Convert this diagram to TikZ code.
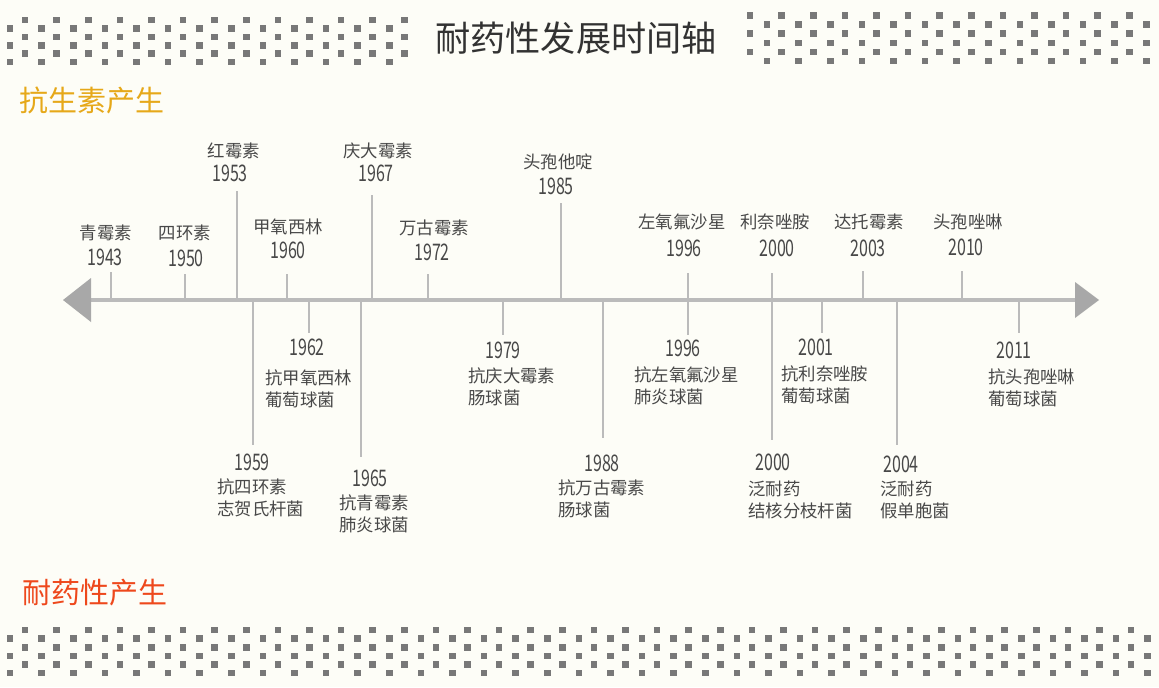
\documentclass[tikz,border=0pt]{standalone}
\usepackage{fontspec}
\setmainfont{Noto Sans CJK SC}
\newfontfamily\yearfont[FakeStretch=0.7]{Noto Sans CJK SC}
\usetikzlibrary{positioning}
\definecolor{bgcolor}{RGB}{253,253,247}
\definecolor{dotcolor}{RGB}{120,120,120}
\definecolor{axiscolor}{RGB}{187,187,187}
\definecolor{headcolor}{RGB}{168,168,168}
\definecolor{labelcolor}{RGB}{72,72,72}
\definecolor{titlecolor}{RGB}{50,50,50}
\definecolor{goldcolor}{RGB}{230,168,25}
\definecolor{redcolor}{RGB}{238,72,28}
\tikzset{
	axisline/.style={
		draw=axiscolor,
		line width=2.6pt
	},
	arrowhead/.style={
		fill=headcolor
	},
	tickline/.style={
		draw=axiscolor,
		line width=1.4pt
	},
	dot/.style={
		fill=dotcolor
	},
	yearlbl/.style={
		inner sep=0pt,
		text=labelcolor,
		font=\fontsize{13}{13}\yearfont
	},
	druglbl/.style={
		inner sep=0pt,
		text=labelcolor,
		font=\fontsize{9.9}{12.5}\selectfont
	},
	germlbl/.style={
		druglbl,
		align=left,
		anchor=west
	},
	headline/.style={
		inner sep=0pt,
		anchor=west,
		font=\fontsize{16.5}{16.5}\selectfont
	},
	maintitle/.style={
		inner sep=0pt,
		text=titlecolor,
		font=\fontsize{20}{20}\selectfont
	},
}
% staggered band of grey squares
\newcommand{\dotband}[5]{%
	\foreach \k in {0,...,#5}{%
		\foreach \r in {0,2,4}{\fill[dot] ({#1+31.6*\k-3.3},{#3+#4*\r-3.3}) rectangle ++(6.6,6.6);}%
		\foreach \r in {1,3,5}{\fill[dot] ({#2+31.6*\k-3.3},{#3+#4*\r-3.3}) rectangle ++(6.6,6.6);}%
	}%
}

\begin{document}
\begin{tikzpicture}[x=0.02cm,y=-0.02cm]
\fill[bgcolor] (0,0) rectangle (1159,687);
\useasboundingbox (0,0) rectangle (1159,687);

\dotband{25}{10}{20}{8.4}{12}
\dotband{750}{767}{15.5}{9.1}{12}
\dotband{25}{10}{630}{8.6}{36}

\node[maintitle] (title) at (576,38) {耐药性发展时间轴};
\node[headline, text=goldcolor] (antib) at (19,100) {抗生素产生};
\node[headline, text=redcolor] (resist) at (22,593) {耐药性产生};

% time axis
\coordinate (axL) at (91,300);
\coordinate (axR) at (1075,300);
\draw[axisline] (axL) -- (axR);
\fill[arrowhead] (axL) -- ++(-28,0) -- ++(28,-22) -- cycle;
\fill[arrowhead] (axL) -- ++(-28,0) -- ++(28,22) -- cycle;
\fill[arrowhead] (axR) -- ++(0,-18) -- ++(24,18) -- ++(-24,18) -- cycle;

% antibiotics (above)
\coordinate (a1943) at (111,300);
\coordinate (t1943) at (111,272);
\node[druglbl] (n1943) at (106,233) {青霉素};
\node[yearlbl] (y1943) at (105,257) {1943};
\draw[tickline] (a1943) -- (t1943);

\coordinate (a1950) at (185,300);
\coordinate (t1950) at (185,274);
\node[druglbl] (n1950) at (185,233) {四环素};
\node[yearlbl] (y1950) at (186,258) {1950};
\draw[tickline] (a1950) -- (t1950);

\coordinate (a1953) at (237,300);
\coordinate (t1953) at (237,191);
\node[druglbl] (n1953) at (234,151) {红霉素};
\node[yearlbl] (y1953) at (230,173) {1953};
\draw[tickline] (a1953) -- (t1953);

\coordinate (a1960) at (287,300);
\coordinate (t1960) at (287,274);
\node[druglbl] (n1960) at (288,227) {甲氧西林};
\node[yearlbl] (y1960) at (288,250) {1960};
\draw[tickline] (a1960) -- (t1960);

\coordinate (a1967) at (372,300);
\coordinate (t1967) at (372,195);
\node[druglbl] (n1967) at (378,151) {庆大霉素};
\node[yearlbl] (y1967) at (376,173) {1967};
\draw[tickline] (a1967) -- (t1967);

\coordinate (a1972) at (428,300);
\coordinate (t1972) at (428,274);
\node[druglbl] (n1972) at (434,228) {万古霉素};
\node[yearlbl] (y1972) at (432,252) {1972};
\draw[tickline] (a1972) -- (t1972);

\coordinate (a1985) at (561,300);
\coordinate (t1985) at (561,203);
\node[druglbl] (n1985) at (558,162) {头孢他啶};
\node[yearlbl] (y1985) at (556,186) {1985};
\draw[tickline] (a1985) -- (t1985);

\coordinate (a1996) at (688,300);
\coordinate (t1996) at (688,273);
\node[druglbl] (n1996) at (682,222) {左氧氟沙星};
\node[yearlbl] (y1996) at (684,248) {1996};
\draw[tickline] (a1996) -- (t1996);

\coordinate (a2000) at (772,300);
\coordinate (t2000) at (772,273);
\node[druglbl] (n2000) at (775,222) {利奈唑胺};
\node[yearlbl] (y2000) at (777,248) {2000};
\draw[tickline] (a2000) -- (t2000);

\coordinate (a2003) at (863,300);
\coordinate (t2003) at (863,271);
\node[druglbl] (n2003) at (869,222) {达托霉素};
\node[yearlbl] (y2003) at (868,248) {2003};
\draw[tickline] (a2003) -- (t2003);

\coordinate (a2010) at (962,300);
\coordinate (t2010) at (962,271);
\node[druglbl] (n2010) at (968,222) {头孢唑啉};
\node[yearlbl] (y2010) at (966,247) {2010};
\draw[tickline] (a2010) -- (t2010);

% resistance (below)
\coordinate (b1959) at (253,300);
\coordinate (e1959) at (253,445);
\node[yearlbl] (r1959) at (252,462) {1959};
\node[germlbl] (g1959) at (217,498) {抗四环素\\志贺氏杆菌};
\draw[tickline] (b1959) -- (e1959);

\coordinate (b1962) at (309,300);
\coordinate (e1962) at (309,333);
\node[yearlbl] (r1962) at (307,347) {1962};
\node[germlbl] (g1962) at (265,388.5) {抗甲氧西林\\葡萄球菌};
\draw[tickline] (b1962) -- (e1962);

\coordinate (b1965) at (361,300);
\coordinate (e1965) at (361,457);
\node[yearlbl] (r1965) at (370,478) {1965};
\node[germlbl] (g1965) at (339,514) {抗青霉素\\肺炎球菌};
\draw[tickline] (b1965) -- (e1965);

\coordinate (b1979) at (503,300);
\coordinate (e1979) at (503,335);
\node[yearlbl] (r1979) at (503,350) {1979};
\node[germlbl] (g1979) at (468,386.5) {抗庆大霉素\\肠球菌};
\draw[tickline] (b1979) -- (e1979);

\coordinate (b1988) at (603,300);
\coordinate (e1988) at (603,438);
\node[yearlbl] (r1988) at (602,463) {1988};
\node[germlbl] (g1988) at (558,499) {抗万古霉素\\肠球菌};
\draw[tickline] (b1988) -- (e1988);

\coordinate (b1996) at (688,300);
\coordinate (e1996) at (688,335);
\node[yearlbl] (r1996) at (683,348) {1996};
\node[germlbl] (g1996) at (634,386) {抗左氧氟沙星\\肺炎球菌};
\draw[tickline] (b1996) -- (e1996);

\coordinate (b2000) at (772,300);
\coordinate (e2000) at (772,440);
\node[yearlbl] (r2000) at (773,462) {2000};
\node[germlbl] (g2000) at (748,500) {泛耐药\\结核分枝杆菌};
\draw[tickline] (b2000) -- (e2000);

\coordinate (b2001) at (822,300);
\coordinate (e2001) at (822,333);
\node[yearlbl] (r2001) at (816,347) {2001};
\node[germlbl] (g2001) at (781,385) {抗利奈唑胺\\葡萄球菌};
\draw[tickline] (b2001) -- (e2001);

\coordinate (b2004) at (897,300);
\coordinate (e2004) at (897,445);
\node[yearlbl] (r2004) at (901,464) {2004};
\node[germlbl] (g2004) at (880,500) {泛耐药\\假单胞菌};
\draw[tickline] (b2004) -- (e2004);

\coordinate (b2011) at (1019,300);
\coordinate (e2011) at (1019,333);
\node[yearlbl] (r2011) at (1014,350) {2011};
\node[germlbl] (g2011) at (988,387.5) {抗头孢唑啉\\葡萄球菌};
\draw[tickline] (b2011) -- (e2011);
\end{tikzpicture}
\end{document}
